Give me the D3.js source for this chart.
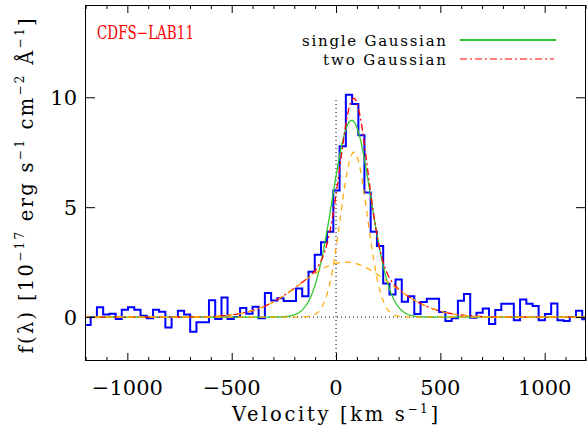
<!DOCTYPE html>
<html><head><meta charset="utf-8">
<script src="https://cdn.jsdelivr.net/npm/d3@7"></script>
<style>body{margin:0;background:#fff} svg{display:block}</style>
</head><body>
<svg id="c" width="587" height="427"></svg>
<script>
// bin centres (km/s) and observed flux density (1e-17 erg/s/cm2/A)
const velocity = [-1190,-1161,-1131,-1101,-1071,-1041,-1012,-982,-952,-922,-892,-862,-833,-803,-773,-743,-713,-684,-654,-624,-594,-564,-534,-505,-475,-445,-415,-385,-356,-326,-296,-266,-236,-206,-177,-147,-117,-87,-57,-28,2,32,62,92,122,151,181,211,241,271,300,330,360,390,420,450,479,509,539,569,599,628,658,688,718,748,778,807,837,867,897,927,957,986,1016,1046,1076,1106,1135,1165,1195];
const flux = [-0.36,0.0,0.45,0.12,0.15,-0.09,0.33,0.45,0.33,0.06,-0.06,0.33,0.24,-0.48,0.0,0.29,0.12,-0.67,-0.24,-0.24,0.76,-0.09,0.89,-0.09,0.0,0.41,0.15,0.47,-0.06,1.1,0.75,0.85,0.73,0.73,1.3,0.95,2.06,2.83,3.4,3.88,5.76,7.77,10.12,9.70,8.27,5.67,3.88,3.23,1.53,1.03,1.71,0.7,0.95,0.14,0.68,0.83,0.83,0.23,-0.18,-0.06,0.74,1.05,-0.03,0.2,0.39,-0.32,0.32,0.6,0.6,-0.14,0.8,0.6,0.5,-0.14,0.14,0.62,-0.14,-0.18,0.0,0.29,-0.1];
const binWidth = 29.8;
// Gaussian fit parameters: [amplitude, centre km/s, sigma km/s]
const singleFit = [8.95, 75, 92];
const narrowFit = [7.5, 86, 65];
const broadFit = [2.5, 45, 215];
const xMajorTicks = [-1000, -500, 0, 500, 1000];
const yMajorTicks = [0, 5, 10];
const legendLabels = ["single Gaussian", "two Gaussian"];
const objectName = "CDFS\u2212LAB11";

const svg = d3.select("#c");
const L = 85, R = 586, T = 5, B = 361;
const x = d3.scaleLinear().domain([-1203, 1198]).range([L, R]);
const y = d3.scaleLinear().domain([-2, 14.2]).range([B, T]);
const font = "DejaVu Serif";

svg.append("defs").append("clipPath").attr("id","clip")
  .append("rect").attr("x",L).attr("y",T).attr("width",R-L).attr("height",B-T);
const plot = svg.append("g").attr("clip-path","url(#clip)");

// reference dotted lines
plot.append("line").attr("x1",x(-1203)).attr("x2",x(1198)).attr("y1",y(0)).attr("y2",y(0))
  .attr("stroke","#000").attr("stroke-width",1).attr("stroke-dasharray","1,3");
plot.append("line").attr("x1",x(0)).attr("x2",x(0)).attr("y1",y(-2)).attr("y2",y(10))
  .attr("stroke","#000").attr("stroke-width",1).attr("stroke-dasharray","1,3");

// histogram
const steps = velocity.map((v,i)=>[v-binWidth/2, flux[i]]);
steps.push([velocity[velocity.length-1]+binWidth/2, flux[flux.length-1]]);
plot.append("path").datum(steps)
  .attr("d", d3.line().x(d=>x(d[0])).y(d=>y(d[1])).curve(d3.curveStepAfter))
  .attr("fill","none").attr("stroke","#0000ff").attr("stroke-width",2);

// model curves
const g = (p, v) => p[0]*Math.exp(-0.5*((v-p[1])/p[2])**2);
const grid = d3.range(-1210, 1205, 3);
const ln = d3.line().x(d=>x(d[0])).y(d=>y(d[1]));
plot.append("path").datum(grid.map(v=>[v,g(singleFit,v)])).attr("d",ln)
  .attr("fill","none").attr("stroke","#2ec82e").attr("stroke-width",1.3);
plot.append("path").datum(grid.map(v=>[v,g(narrowFit,v)+g(broadFit,v)])).attr("d",ln)
  .attr("fill","none").attr("stroke","#ff0000").attr("stroke-width",1.3).attr("stroke-dasharray","7,3,2,3");
[narrowFit, broadFit].forEach(p=>{
  plot.append("path").datum(grid.map(v=>[v,g(p,v)])).attr("d",ln)
    .attr("fill","none").attr("stroke","#ffa500").attr("stroke-width",1.2).attr("stroke-dasharray","6,5");
});

// axes
function styleAxis(sel){ sel.select(".domain").remove(); sel.selectAll("line").attr("stroke","#000"); sel.selectAll("text").remove(); }
const xMinor = d3.range(-1200, 1201, 100).filter(v=>v%500!==0);
svg.append("g").attr("transform",`translate(0,${B})`).call(d3.axisBottom(x).tickValues(xMajorTicks).tickSize(-8)).call(styleAxis);
svg.append("g").attr("transform",`translate(0,${B})`).call(d3.axisBottom(x).tickValues(xMinor).tickSize(-4)).call(styleAxis);
svg.append("g").attr("transform",`translate(0,${T})`).call(d3.axisTop(x).tickValues(xMajorTicks).tickSize(-8)).call(styleAxis);
svg.append("g").attr("transform",`translate(0,${T})`).call(d3.axisTop(x).tickValues(xMinor).tickSize(-4)).call(styleAxis);
svg.append("g").attr("transform",`translate(${L},0)`).call(d3.axisLeft(y).tickValues(yMajorTicks).tickSize(-10)).call(styleAxis);
svg.append("g").attr("transform",`translate(${R},0)`).call(d3.axisRight(y).tickValues(yMajorTicks).tickSize(-10)).call(styleAxis);

svg.append("rect").attr("x",L+0.5).attr("y",T+0.5).attr("width",R-L-1).attr("height",B-T-1)
  .attr("fill","none").attr("stroke","#000").attr("stroke-width",1);

// tick labels
svg.selectAll(".xl").data(xMajorTicks).enter().append("text")
  .attr("x",d=>x(d)).attr("y",395).attr("text-anchor","middle")
  .attr("font-family",font).attr("font-size",21).text(d=>d3.format("")(d).replace("-","\u2212"));
svg.selectAll(".yl").data(yMajorTicks).enter().append("text")
  .attr("x",77).attr("y",d=>y(d)+7.5).attr("text-anchor","end")
  .attr("font-family",font).attr("font-size",21).text(d=>d);

// x title
const xt = svg.append("text").attr("x",335).attr("y",421).attr("text-anchor","middle")
  .attr("font-family",font).attr("font-size",19.5).attr("textLength",206).attr("lengthAdjust","spacing");
xt.append("tspan").text("Velocity [km s");
xt.append("tspan").attr("font-size",12).attr("dy",-8).text("\u22121");
xt.append("tspan").attr("dy",8).text("]");

// y title
const yt = svg.append("text").attr("transform","translate(33,186) rotate(-90)").attr("text-anchor","middle")
  .attr("font-family",font).attr("font-size",19.5).attr("textLength",335).attr("lengthAdjust","spacing");
const parts = [["f(\u03bb) [10",0],["\u221217",1],[" erg s",0],["\u22121",1],[" cm",0],["\u22122",1],[" \u00c5",0],["\u22121",1],["]",0]];
let prevSup = 0;
parts.forEach(([t,s])=>{
  const sp = yt.append("tspan").text(t);
  if (s) sp.attr("font-size",12);
  if (s!==prevSup) sp.attr("dy", s ? -9 : 9);
  prevSup = s;
});

// object label
svg.append("text").attr("x",97).attr("y",39).attr("fill","#ff0000")
  .attr("font-family",font).attr("font-size",18).attr("textLength",97).attr("lengthAdjust","spacingAndGlyphs").text(objectName);

// legend
const legY = [40, 59];
const legW = [144, 123];
legendLabels.forEach((t,i)=>{
  svg.append("text").attr("x",446).attr("y",legY[i]+6).attr("text-anchor","end")
    .attr("font-family",font).attr("font-size",15).attr("textLength",legW[i]).attr("lengthAdjust","spacing").text(t);
});
svg.append("line").attr("x1",460).attr("x2",556).attr("y1",legY[0]).attr("y2",legY[0])
  .attr("stroke","#2ec82e").attr("stroke-width",2);
svg.append("line").attr("x1",460).attr("x2",554).attr("y1",legY[1]).attr("y2",legY[1])
  .attr("stroke","#ff0000").attr("stroke-width",1.2).attr("stroke-dasharray","7,3,2,3");
</script>
</body></html>
